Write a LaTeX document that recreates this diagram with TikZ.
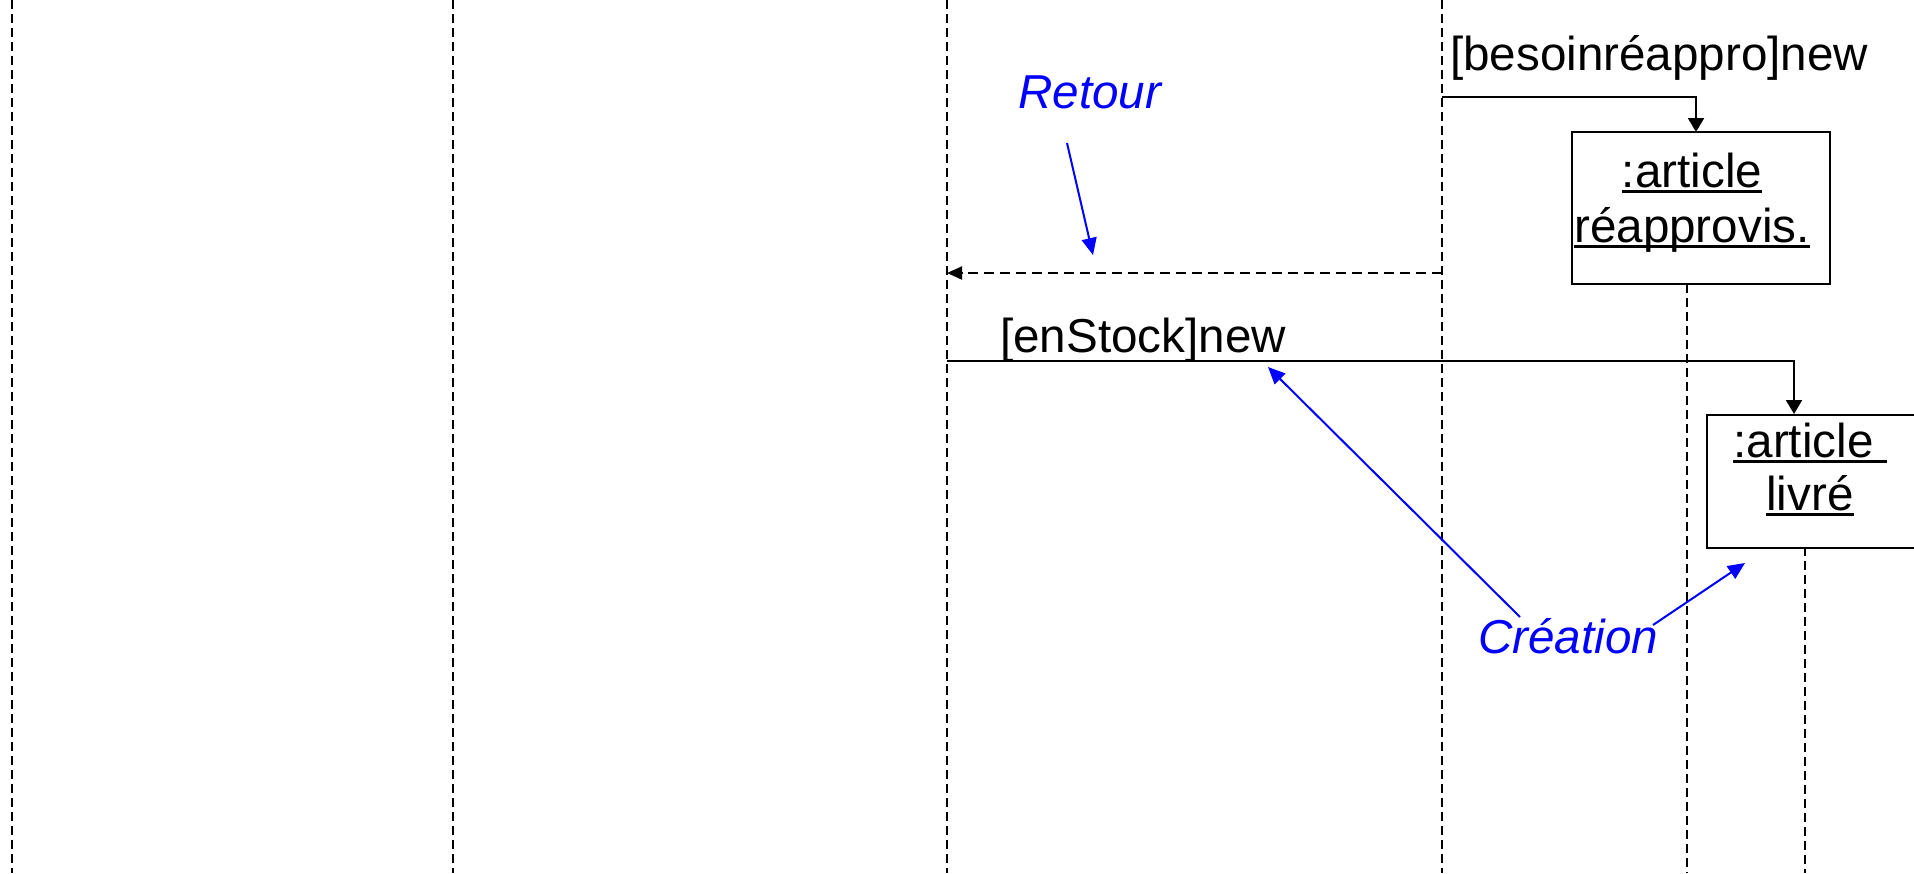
\documentclass[tikz,border=0pt]{standalone}
\usepackage{fontspec}
\setmainfont{Liberation Sans}
\usetikzlibrary{arrows.meta}
\newcommand{\myul}[1]{\setbox0\hbox{#1}\rlap{\rule[-0.13em]{\wd0}{0.06em}}\box0}
\begin{document}
\begin{tikzpicture}[x=1pt,y=-1pt,
 life/.style={line width=2pt, dash pattern=on 9pt off 5pt},
 msg/.style={line width=2pt, -{Triangle[length=14pt,width=16pt]}},
 retmsg/.style={line width=2pt, dash pattern=on 10pt off 6pt, -{Triangle[length=15pt,width=13pt]}},
 notearrow/.style={blue, line width=2pt, -{Triangle[length=17pt,width=15pt]}},
 txt/.style={inner sep=0pt, anchor=base west, font=\fontsize{47.6}{55}\selectfont},
 ntxt/.style={txt, text=blue, font=\fontsize{47.6}{55}\selectfont\itshape},
 obj/.style={draw, line width=2pt, inner sep=0pt, fill=white}]
\useasboundingbox (0,0) rectangle (1914,873);
\fill[white] (0,0) rectangle (1914,873);
% lifelines
\coordinate (l1t) at (12,0);   \coordinate (l1b) at (12,873);
\coordinate (l2t) at (453,0);  \coordinate (l2b) at (453,873);
\coordinate (l3t) at (947,0);  \coordinate (l3b) at (947,873);
\coordinate (l4t) at (1442,0); \coordinate (l4b) at (1442,873);
\draw[life] (l1t) -- (l1b);
\draw[life] (l2t) -- (l2b);
\draw[life] (l3t) -- (l3b);
\draw[life] (l4t) -- (l4b);
% objects
\node[obj, minimum width=258pt, minimum height=152pt] (reap) at (1701,208) {};
\node[obj, minimum width=240pt, minimum height=133pt, anchor=north west] (livre) at (1706,414) {};
\coordinate (l5t) at (1687,284); \coordinate (l5b) at (1687,873);
\coordinate (l6t) at (1805,547); \coordinate (l6b) at (1805,873);
\draw[life] (l5t) -- (l5b);
\draw[life] (l6t) -- (l6b);
\node[txt, anchor=base] (t1) at (1692,187) {\myul{:article}};
\node[txt, anchor=base] (t2) at (1692,242) {\myul{réapprovis.}};
\node[txt, anchor=base] (t3) at (1810,457) {\myul{:article\ }};
\node[txt, anchor=base] (t4) at (1810,510) {\myul{livré}};
% messages
\coordinate (m1s) at (1442,97);
\coordinate (m1e) at (1696,132);
\draw[msg] (m1s) -| (m1e);
\node[txt] (lb1) at (1450,70) {[besoinréappro]new};
\coordinate (r1s) at (1442,273);
\coordinate (r1e) at (947,273);
\draw[retmsg] (r1s) -- (r1e);
\coordinate (m2s) at (947,361);
\coordinate (m2e) at (1794,414);
\draw[msg] (m2s) -| (m2e);
\node[txt] (lb2) at (1000,352) {[enStock]new};
% notes
\node[ntxt] (retour) at (1018,108) {Retour};
\node[ntxt] (creation) at (1478,653) {Création};
\coordinate (n1s) at (1067,143); \coordinate (n1e) at (1093,255);
\draw[notearrow] (n1s) -- (n1e);
\coordinate (n2s) at (1520,617); \coordinate (n2e) at (1268,367);
\draw[notearrow] (n2s) -- (n2e);
\coordinate (n3s) at (1653,625); \coordinate (n3e) at (1745,563);
\draw[notearrow] (n3s) -- (n3e);
\end{tikzpicture}
\end{document}
